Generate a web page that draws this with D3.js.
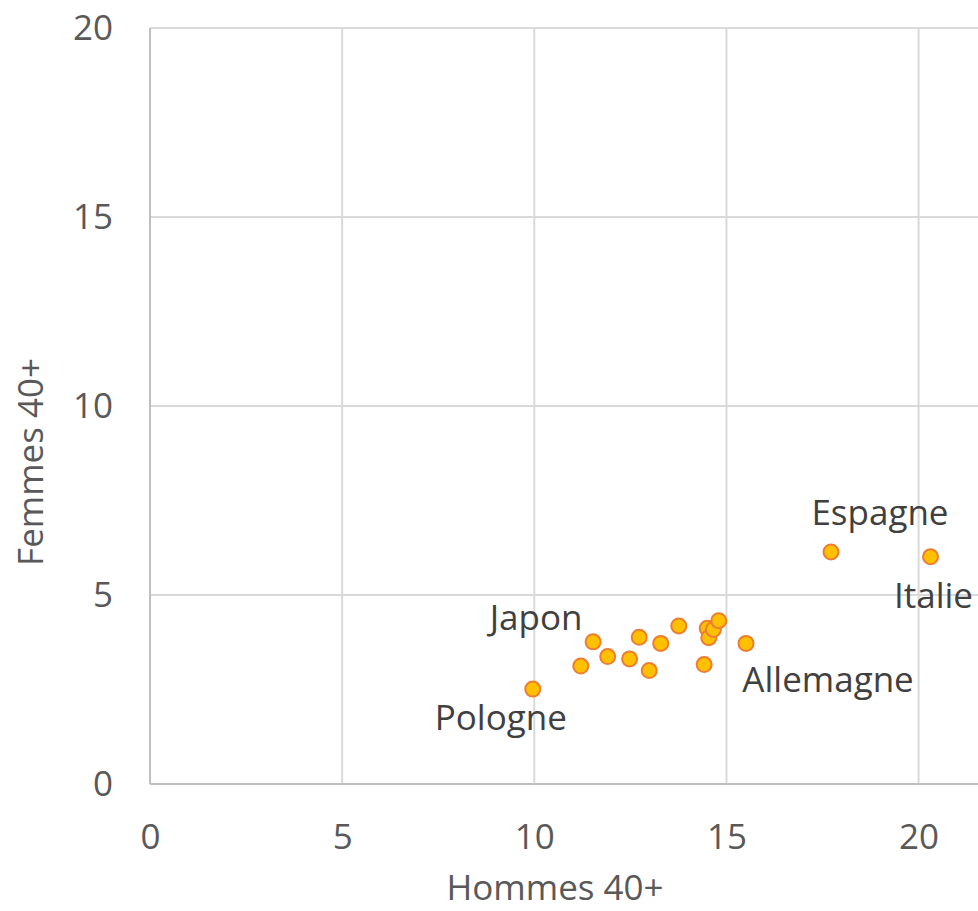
<!DOCTYPE html>
<html>
<head>
<meta charset="utf-8">
<script src="https://cdn.jsdelivr.net/npm/d3@7"></script>
<style>
  html, body { margin: 0; padding: 0; background: #fff; }
  svg { display: block; }
  text { font-family: "Open Sans", sans-serif; fill: #595959; }
</style>
</head>
<body>
<svg id="chart" width="978" height="911"></svg>
<script>
// Hommes 40+ (x) and Femmes 40+ (y) by country
const countries = ["Pologne", "", "Japon", "", "", "", "", "", "", "", "", "", "", "", "Allemagne", "Espagne", "Italie"];
const hommes = [9.96, 11.21, 11.53, 11.91, 12.48, 12.73, 12.99, 13.29, 13.76, 14.42, 14.50, 14.54, 14.66, 14.80, 15.51, 17.72, 20.31];
const femmes = [2.51, 3.12, 3.76, 3.37, 3.31, 3.88, 3.00, 3.72, 4.18, 3.16, 4.12, 3.87, 4.09, 4.32, 3.72, 6.14, 6.01];

const xTicks = [0, 5, 10, 15, 20];
const yTicks = [0, 5, 10, 15, 20];
const xTitle = "Hommes 40+";
const yTitle = "Femmes 40+";

// label offsets relative to the point (dx, dy)
const labelOffsets = {
  "Pologne": [-32, 41],
  "Japon": [-57, -12],
  "Allemagne": [82, 49],
  "Espagne": [49, -27],
  "Italie": [3, 51]
};

const svg = d3.select("#chart");
const plotLeft = 150, plotTop = 28, plotBottom = 784;
const fontSize = "35px";
const x = d3.scaleLinear().domain([0, 25]).range([plotLeft, plotLeft + 25 * 38.43]);
const y = d3.scaleLinear().domain([0, 20]).range([plotBottom, plotTop]);

const data = hommes.map((h, i) => ({ name: countries[i], x: h, y: femmes[i] }));

// gridlines
const grid = svg.append("g");
grid.selectAll("line.v").data(xTicks.filter(d => d > 0)).join("line")
  .attr("class", "v")
  .attr("x1", d => x(d)).attr("x2", d => x(d))
  .attr("y1", plotTop).attr("y2", plotBottom)
  .attr("stroke", "#d9d9d9").attr("stroke-width", 2);
grid.selectAll("line.h").data(yTicks.filter(d => d > 0)).join("line")
  .attr("class", "h")
  .attr("x1", plotLeft).attr("x2", 978)
  .attr("y1", d => y(d)).attr("y2", d => y(d))
  .attr("stroke", "#d9d9d9").attr("stroke-width", 2);

// axis lines
svg.append("line").attr("x1", plotLeft).attr("x2", plotLeft).attr("y1", plotTop).attr("y2", plotBottom)
  .attr("stroke", "#bfbfbf").attr("stroke-width", 2);
svg.append("line").attr("x1", plotLeft).attr("x2", 978).attr("y1", plotBottom).attr("y2", plotBottom)
  .attr("stroke", "#bfbfbf").attr("stroke-width", 2);

// tick labels via d3 axes
const xAxis = d3.axisBottom(x).tickValues(xTicks).tickSize(0).tickPadding(40);
const gx = svg.append("g").attr("transform", `translate(0,${plotBottom})`).call(xAxis);
gx.select(".domain").remove();
gx.selectAll("text").style("font-size", fontSize).style("font-family", "'Open Sans', sans-serif").attr("fill", "#595959");

const yAxis = d3.axisLeft(y).tickValues(yTicks).tickSize(0).tickPadding(37);
const gy = svg.append("g").attr("transform", `translate(${plotLeft},0)`).call(yAxis);
gy.select(".domain").remove();
gy.selectAll("text").style("font-size", fontSize).style("font-family", "'Open Sans', sans-serif").attr("fill", "#595959");

// axis titles
svg.append("text").attr("x", x(10.54)).attr("y", 900).attr("text-anchor", "middle")
  .style("font-size", fontSize).text(xTitle);
svg.append("text").attr("transform", `translate(43,${y(8.52)}) rotate(-90)`).attr("text-anchor", "middle")
  .style("font-size", fontSize).text(yTitle);

// points
svg.append("g").selectAll("circle").data(data).join("circle")
  .attr("cx", d => x(d.x)).attr("cy", d => y(d.y)).attr("r", 7.5)
  .attr("fill", "#ffc000").attr("stroke", "#ed7d31").attr("stroke-width", 2);

// country labels
svg.append("g").selectAll("text").data(data.filter(d => d.name)).join("text")
  .attr("x", d => x(d.x) + labelOffsets[d.name][0])
  .attr("y", d => y(d.y) + labelOffsets[d.name][1])
  .attr("text-anchor", "middle")
  .style("font-size", fontSize)
  .style("fill", "#404040")
  .text(d => d.name);
</script>
</body>
</html>
